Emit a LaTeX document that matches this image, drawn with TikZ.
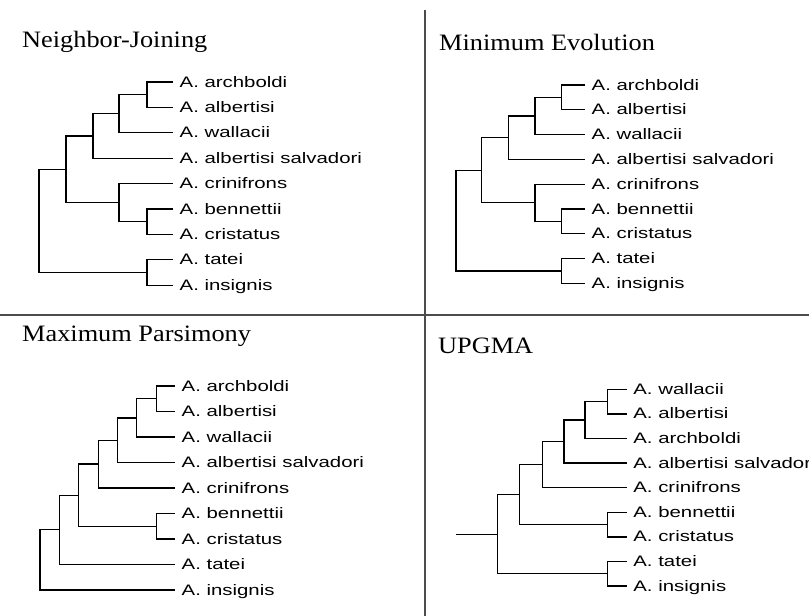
\documentclass[tikz,border=0pt]{standalone}
\usepackage{fontspec}
\newfontfamily\taxfont[FakeStretch=1.34]{Liberation Sans}
\newfontfamily\headfont[FakeStretch=1.12]{Liberation Serif}
\usepackage{tikz}
\usetikzlibrary{calc}

\newcommand{\clade}[4]{%
\path let \p1=(#3), \p2=(#4) in coordinate (#1) at (#2pt,{0.5*(\y1+\y2)});
\draw[branch] (#1) |- (#3) (#1) |- (#4);}

\begin{document}
\begin{tikzpicture}[x=1pt,y=1pt,
  branch/.style={line width=1.3pt,black},
  frame/.style={line width=1.3pt,black!70},
  taxon/.style={anchor=west,inner xsep=6.5pt,inner ysep=0pt,text height=10pt,text depth=0pt,
    font=\taxfont\fontsize{15.2}{18}\selectfont},
  title/.style={anchor=base west,inner sep=0pt,font=\headfont\fontsize{23.5}{28}\selectfont}]
\useasboundingbox (0,0) rectangle (809,-616);

\coordinate (vtop) at (425,-10);
\coordinate (vbot) at (425,-616);
\coordinate (hleft) at (0,-315);
\coordinate (hright) at (809,-315);
\draw[frame] (vtop) -- (vbot) (hleft) -- (hright);

\node[title] (njt) at (22,-47.7) {Neighbor-Joining};
\node[title] (met) at (439,-50) {Minimum Evolution};
\node[title] (mpt) at (22,-341.7) {Maximum Parsimony};
\node[title] (upt) at (438,-353.7) {UPGMA};

\node[taxon] (nj1) at (173,-82) {A. archboldi};
\node[taxon] (nj2) at (173,-107.4) {A. albertisi};
\node[taxon] (nj3) at (173,-132.8) {A. wallacii};
\node[taxon] (nj4) at (173,-158.2) {A. albertisi salvadori};
\node[taxon] (nj5) at (173,-183.6) {A. crinifrons};
\node[taxon] (nj6) at (173,-209) {A. bennettii};
\node[taxon] (nj7) at (173,-234.4) {A. cristatus};
\node[taxon] (nj8) at (173,-259.8) {A. tatei};
\node[taxon] (nj9) at (173,-285.2) {A. insignis};
\clade{njA}{147}{nj1}{nj2}
\clade{njB}{119}{njA}{nj3}
\clade{njC}{93}{njB}{nj4}
\clade{njD}{147}{nj6}{nj7}
\clade{njE}{119}{nj5}{njD}
\clade{njF}{66}{njC}{njE}
\clade{njG}{147}{nj8}{nj9}
\clade{njR}{39}{njF}{njG}

\node[taxon] (me1) at (585,-85) {A. archboldi};
\node[taxon] (me2) at (585,-109.8) {A. albertisi};
\node[taxon] (me3) at (585,-134.6) {A. wallacii};
\node[taxon] (me4) at (585,-159.4) {A. albertisi salvadori};
\node[taxon] (me5) at (585,-184.2) {A. crinifrons};
\node[taxon] (me6) at (585,-209) {A. bennettii};
\node[taxon] (me7) at (585,-233.8) {A. cristatus};
\node[taxon] (me8) at (585,-258.6) {A. tatei};
\node[taxon] (me9) at (585,-283.4) {A. insignis};
\clade{meA}{561.7}{me1}{me2}
\clade{meB}{535}{meA}{me3}
\clade{meC}{508.3}{meB}{me4}
\clade{meD}{561.7}{me6}{me7}
\clade{meE}{535}{me5}{meD}
\clade{meF}{481.7}{meC}{meE}
\clade{meG}{561.7}{me8}{me9}
\clade{meR}{456}{meF}{meG}

\node[taxon] (mp1) at (175,-386) {A. archboldi};
\node[taxon] (mp2) at (175,-411.5) {A. albertisi};
\node[taxon] (mp3) at (175,-437) {A. wallacii};
\node[taxon] (mp4) at (175,-462.5) {A. albertisi salvadori};
\node[taxon] (mp5) at (175,-488) {A. crinifrons};
\node[taxon] (mp6) at (175,-513.5) {A. bennettii};
\node[taxon] (mp7) at (175,-539) {A. cristatus};
\node[taxon] (mp8) at (175,-564.5) {A. tatei};
\node[taxon] (mp9) at (175,-590) {A. insignis};
\clade{mpA}{156.7}{mp1}{mp2}
\clade{mpB}{136.7}{mpA}{mp3}
\clade{mpC}{117.3}{mpB}{mp4}
\clade{mpD}{98.3}{mpC}{mp5}
\clade{mpE}{156.7}{mp6}{mp7}
\clade{mpF}{78.3}{mpD}{mpE}
\clade{mpG}{59.3}{mpF}{mp8}
\clade{mpR}{40}{mpG}{mp9}

\node[taxon] (up1) at (626.7,-389.3) {A. wallacii};
\node[taxon] (up2) at (626.7,-413.9) {A. albertisi};
\node[taxon] (up3) at (626.7,-438.5) {A. archboldi};
\node[taxon] (up4) at (626.7,-463.1) {A. albertisi salvadori};
\node[taxon] (up5) at (626.7,-487.7) {A. crinifrons};
\node[taxon] (up6) at (626.7,-512.3) {A. bennettii};
\node[taxon] (up7) at (626.7,-536.9) {A. cristatus};
\node[taxon] (up8) at (626.7,-561.5) {A. tatei};
\node[taxon] (up9) at (626.7,-586.1) {A. insignis};
\clade{upA}{607.3}{up1}{up2}
\clade{upB}{585}{upA}{up3}
\clade{upC}{564}{upB}{up4}
\clade{upD}{542.7}{upC}{up5}
\clade{upE}{607.3}{up6}{up7}
\clade{upF}{519.3}{upD}{upE}
\clade{upG}{607.3}{up8}{up9}
\clade{upR}{497.7}{upF}{upG}
\coordinate (upS) at ($(upR)+(-41.7,0)$);
\draw[branch] (upS) -- (upR);
\end{tikzpicture}
\end{document}
